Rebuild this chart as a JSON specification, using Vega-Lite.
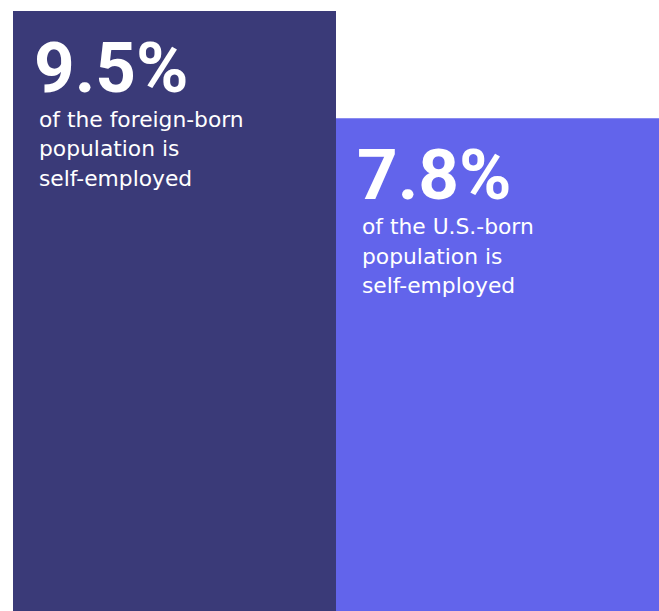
{
  "$schema": "https://vega.github.io/schema/vega-lite/v6.json",
  "width": 646,
  "height": 611,
  "autosize": "none",
  "padding": {"left": 13, "top": 0, "right": 0, "bottom": 0},
  "background": "white",
  "config": {"view": {"stroke": null}},
  "data": {
    "values": [
      {"group": "Foreign-born", "value": 9.5, "label": "9.5%", "desc": "of the foreign-born\npopulation is\nself-employed"},
      {"group": "U.S.-born", "value": 7.8, "label": "7.8%", "desc": "of the U.S.-born\npopulation is\nself-employed"}
    ]
  },
  "encoding": {
    "x": {"field": "group", "type": "nominal", "sort": null, "axis": null, "bandPosition": 0,
      "scale": {"paddingInner": 0, "paddingOuter": 0}},
    "y": {"field": "value", "type": "quantitative", "axis": null, "scale": {"domain": [0, 9.674], "nice": false, "zero": true}}
  },
  "layer": [
    {
      "mark": {"type": "bar", "width": {"band": 1}, "align": "left"},
      "encoding": {
        "x": {"field": "group", "type": "nominal", "sort": null, "axis": null},
        "color": {"field": "group", "type": "nominal", "sort": null, "legend": null,
          "scale": {"range": ["#3a3a78", "#6264eb"]}}
      }
    },
    {
      "mark": {"type": "text", "align": "left", "baseline": "alphabetic", "dx": 21, "dy": 81,
        "font": "Roboto", "fontWeight": "bold", "fontSize": 71, "color": "white"},
      "encoding": {"text": {"field": "label"}}
    },
    {
      "mark": {"type": "text", "align": "left", "baseline": "alphabetic", "dx": 26, "dy": 116,
        "font": "DejaVu Sans", "fontWeight": "normal", "fontSize": 21.8, "lineHeight": 29.5, "lineBreak": "\n", "color": "white"},
      "encoding": {"text": {"field": "desc"}}
    }
  ]
}
